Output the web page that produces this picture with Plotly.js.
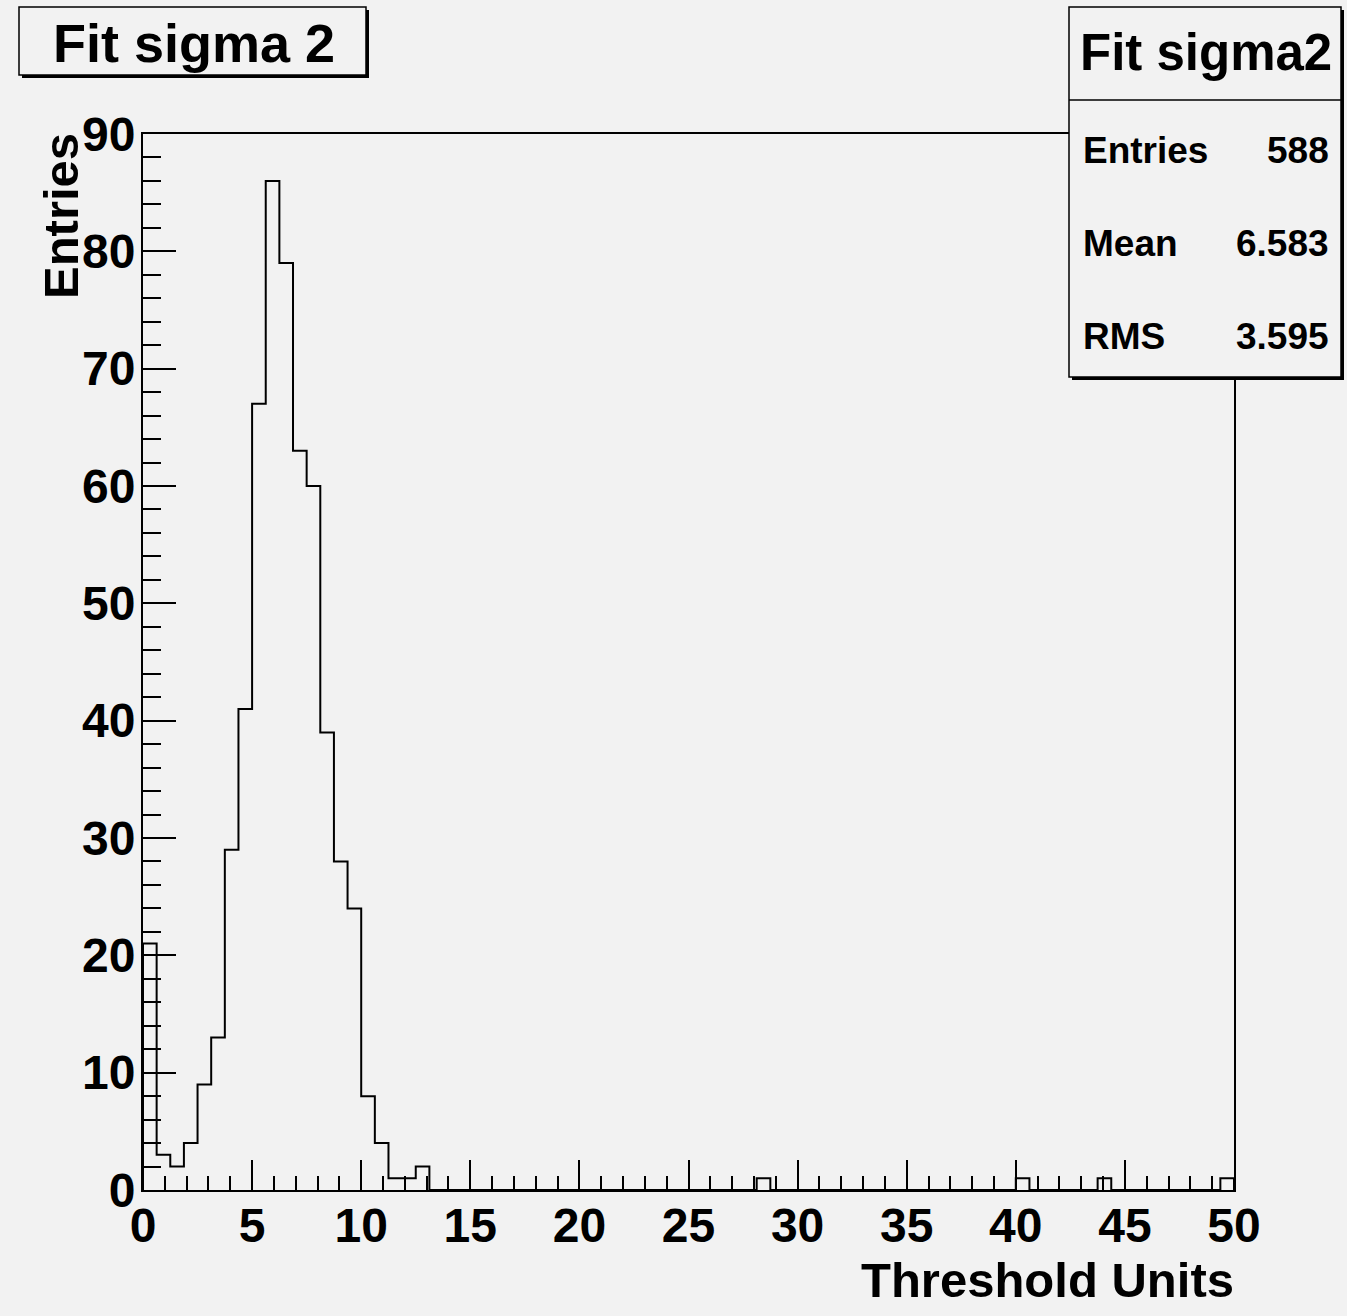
<!DOCTYPE html>
<html>
<head>
<meta charset="utf-8">
<script src="https://cdn.plot.ly/plotly-3.0.1.min.js"></script>
<style>
  html, body { margin: 0; padding: 0; background: #f2f2f2; }
  #chart { width: 1347px; height: 1316px; }
</style>
</head>
<body>
<div id="chart"></div>
<script>
// ---- data ----
const histTitle = "Fit sigma 2";
const statsTitle = "Fit sigma2";
const xTitle = "Threshold Units";
const yTitle = "Entries";
const xMin = 0;
const xMax = 50;
const binWidth = 0.625;
const counts = [
  21, 3, 2, 4, 9, 13, 29, 41, 67, 86,
  79, 63, 60, 39, 28, 24, 8, 4, 1, 1,
  2, 0, 0, 0, 0, 0, 0, 0, 0, 0,
  0, 0, 0, 0, 0, 0, 0, 0, 0, 0,
  0, 0, 0, 0, 0, 1, 0, 0, 0, 0,
  0, 0, 0, 0, 0, 0, 0, 0, 0, 0,
  0, 0, 0, 0, 1, 0, 0, 0, 0, 0,
  1, 0, 0, 0, 0, 0, 0, 0, 0, 1
];
const statLabels = ["Entries", "Mean", "RMS"];
const statValues = ["588", "6.583", "3.595"];

// ---- step outline built from bins ----
const xs = [xMin];
const ys = [0];
for (let i = 0; i < counts.length; i++) {
  xs.push(xMin + i * binWidth);
  ys.push(counts[i]);
}
xs.push(xMin + counts.length * binWidth);
ys.push(counts[counts.length - 1]);
xs.push(xMin + counts.length * binWidth);
ys.push(0);

// ---- geometry (pixels) ----
const W = 1347, H = 1316;
const L = 143, R = 1234, T = 134, B = 1190;
const PW = R - L, PH = B - T;
const px = v => (v - L) / PW;
const py = v => (B - v) / PH;

const FONT = "Liberation Sans, Arial, Helvetica, sans-serif";

const shapes = [];
const annotations = [];

function box(x0, y0, x1, y1) {
  // shadow
  shapes.push({type: 'rect', xref: 'paper', yref: 'paper',
    x0: px(x0 + 3), x1: px(x1 + 3), y0: py(y1 + 3), y1: py(y0 + 3),
    line: {width: 0}, fillcolor: '#000', layer: 'above'});
  shapes.push({type: 'rect', xref: 'paper', yref: 'paper',
    x0: px(x0), x1: px(x1), y0: py(y1), y1: py(y0),
    line: {width: 1.5, color: '#000'}, fillcolor: '#f2f2f2', layer: 'above'});
}

// title box
box(19, 7, 366, 75);
annotations.push({xref: 'paper', yref: 'paper', x: px(194), y: py(43),
  xanchor: 'center', yanchor: 'middle', showarrow: false,
  text: histTitle, font: {family: FONT, size: 54, color: '#000', weight: 'bold'}});

// stats box
box(1069, 7, 1341, 377);
shapes.push({type: 'line', xref: 'paper', yref: 'paper',
  x0: px(1069), x1: px(1341), y0: py(100), y1: py(100),
  line: {width: 1.5, color: '#000'}, layer: 'above'});
annotations.push({xref: 'paper', yref: 'paper', x: px(1206), y: py(52),
  xanchor: 'center', yanchor: 'middle', showarrow: false,
  text: statsTitle, font: {family: FONT, size: 51, color: '#000', weight: 'bold'}});
const rowY = [150, 243, 336];
for (let i = 0; i < statLabels.length; i++) {
  annotations.push({xref: 'paper', yref: 'paper', x: px(1081), y: py(rowY[i]),
    xanchor: 'left', yanchor: 'middle', showarrow: false,
    text: statLabels[i], font: {family: FONT, size: 37, color: '#000', weight: 'bold'}});
  annotations.push({xref: 'paper', yref: 'paper', x: px(1331), y: py(rowY[i]),
    xanchor: 'right', yanchor: 'middle', showarrow: false,
    text: statValues[i], font: {family: FONT, size: 37, color: '#000', weight: 'bold'}});
}

// axis titles
annotations.push({xref: 'paper', yref: 'paper', x: px(61), y: py(131),
  xanchor: 'center', yanchor: 'top', textangle: -90, showarrow: false,
  text: yTitle, font: {family: FONT, size: 49, color: '#000', weight: 'bold'}});
annotations.push({xref: 'paper', yref: 'paper', x: px(1236), y: py(1280),
  xanchor: 'right', yanchor: 'middle', showarrow: false,
  text: xTitle, font: {family: FONT, size: 49, color: '#000', weight: 'bold'}});

const trace = {
  type: 'scatter', mode: 'lines', x: xs, y: ys,
  line: {shape: 'hv', color: '#000', width: 2},
  hoverinfo: 'skip', showlegend: false
};

const tickFont = {family: FONT, size: 48, color: '#000', weight: 'bold'};

const layout = {
  width: W, height: H,
  paper_bgcolor: '#f2f2f2', plot_bgcolor: '#f2f2f2',
  margin: {l: L, r: W - R, t: T, b: H - B, pad: 0},
  showlegend: false,
  xaxis: {
    range: [xMin, xMax], showgrid: false, zeroline: false,
    showline: true, linecolor: '#000', linewidth: 2, mirror: true,
    ticks: 'inside', ticklen: 30, tickwidth: 2, tickcolor: '#000',
    tick0: 0, dtick: 5, tickfont: tickFont, ticklabelstandoff: -8,
    minor: {ticks: 'inside', ticklen: 14, tickwidth: 2, tickcolor: '#000', dtick: 1, showgrid: false}
  },
  yaxis: {
    range: [0, 90], showgrid: false, zeroline: false,
    showline: true, linecolor: '#000', linewidth: 2, mirror: true,
    ticks: 'inside', ticklen: 33, tickwidth: 2, tickcolor: '#000',
    tick0: 0, dtick: 10, tickfont: tickFont, ticklabelstandoff: -4,
    minor: {ticks: 'inside', ticklen: 18, tickwidth: 2, tickcolor: '#000', dtick: 2, showgrid: false}
  },
  shapes: shapes,
  annotations: annotations
};

Plotly.newPlot('chart', [trace], layout, {displayModeBar: false, staticPlot: true});
</script>
</body>
</html>
